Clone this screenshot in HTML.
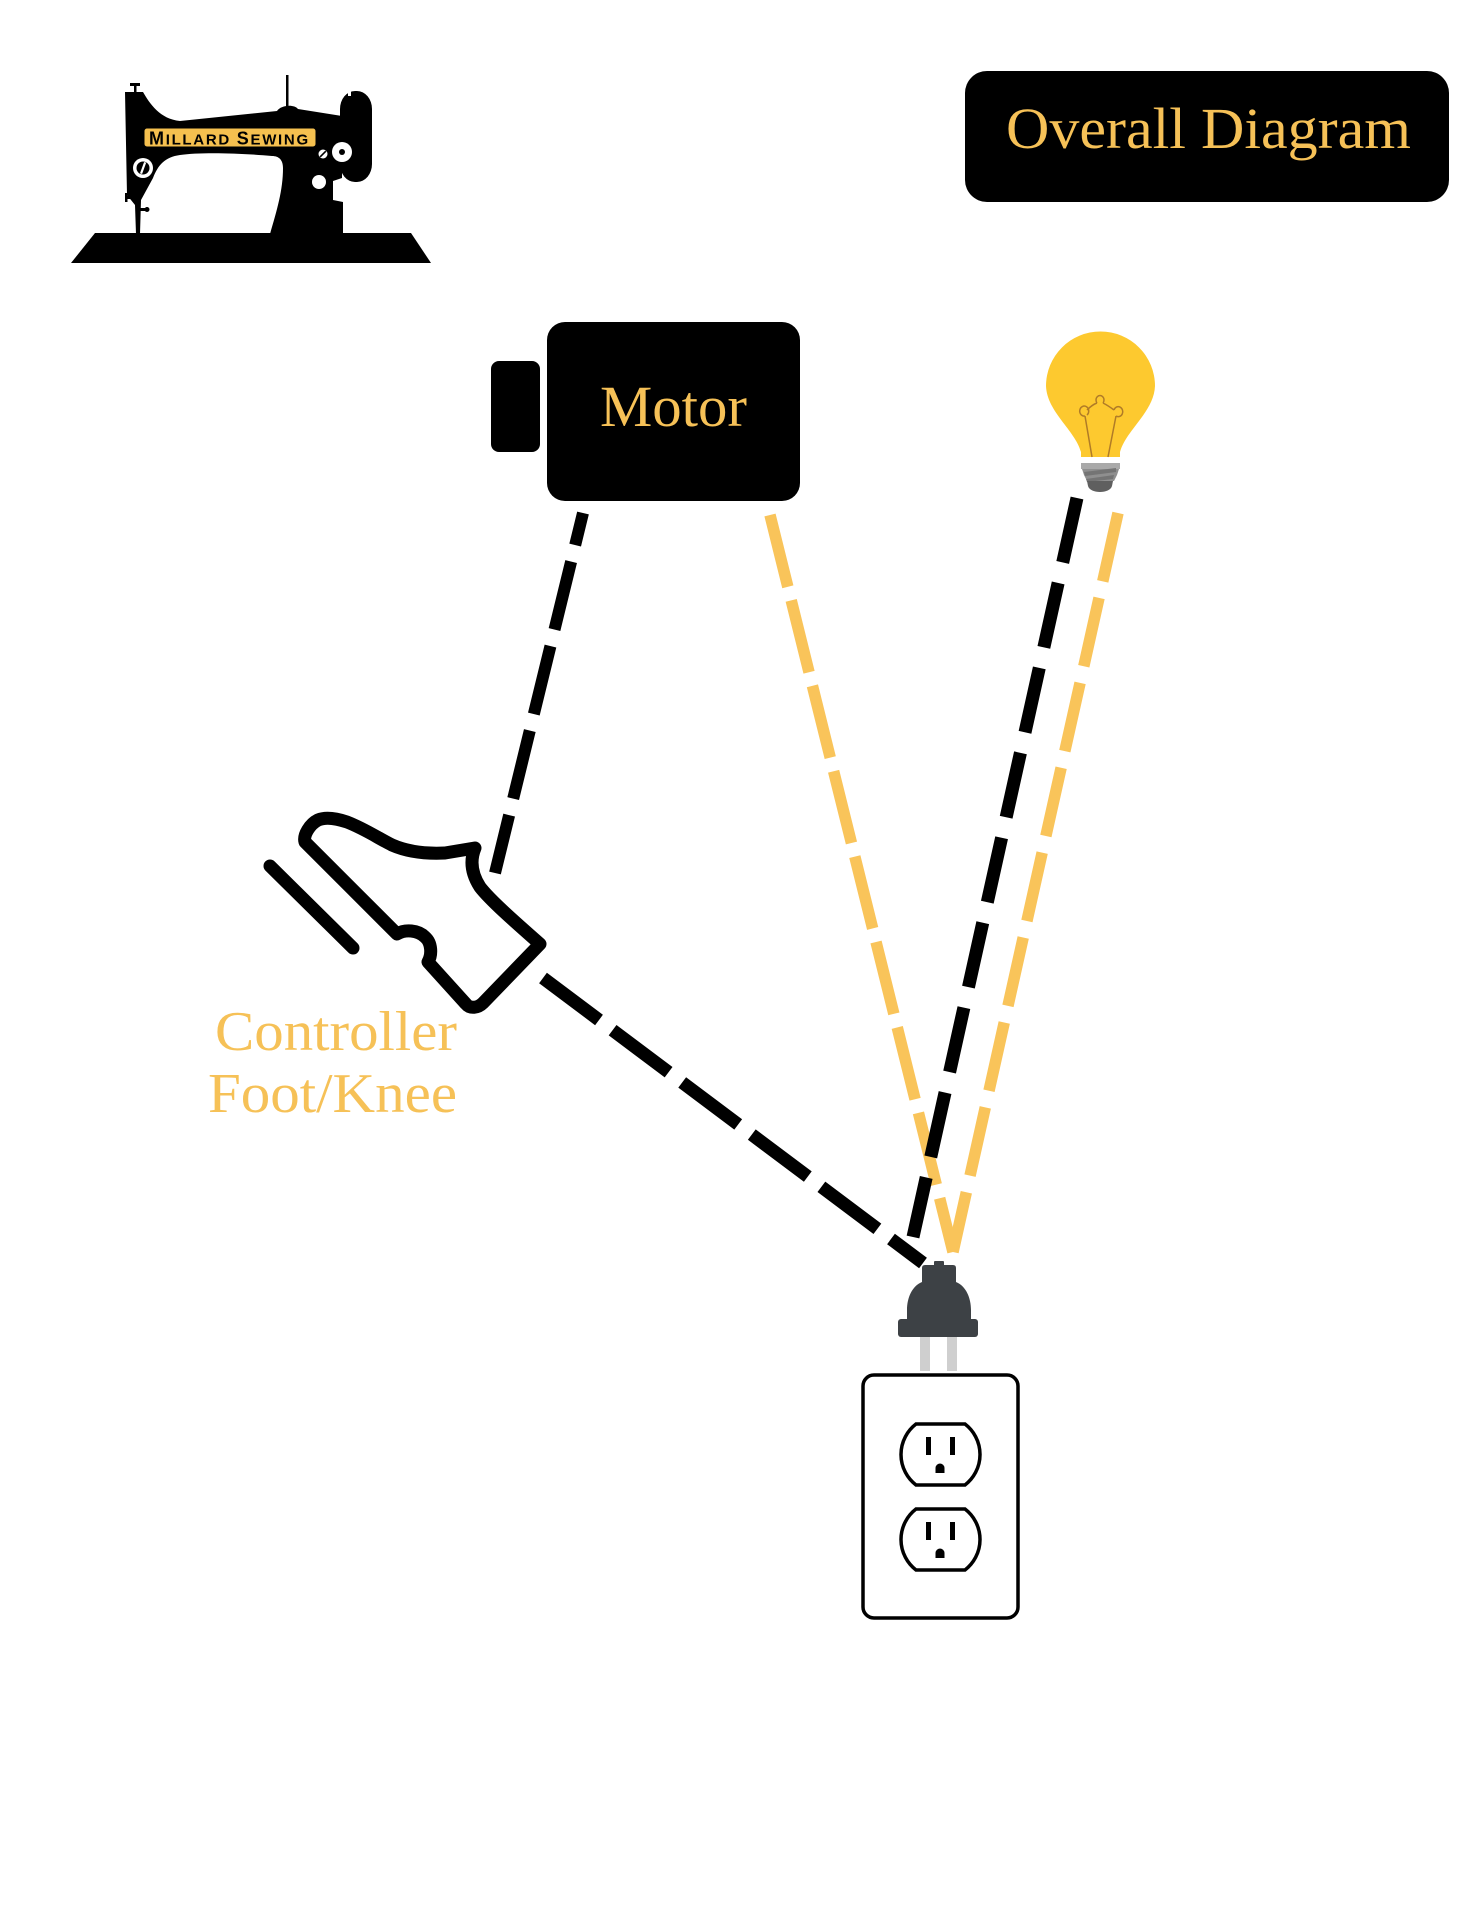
<!DOCTYPE html>
<html>
<head>
<meta charset="utf-8">
<style>
  html,body{margin:0;padding:0;background:#fff;}
  svg{display:block;}
</style>
</head>
<body>
<svg width="1484" height="1920" viewBox="0 0 1484 1920" xmlns="http://www.w3.org/2000/svg">
  <rect x="0" y="0" width="1484" height="1920" fill="#ffffff"/>

  <!-- ===== Sewing machine logo ===== -->
  <g>
    <polygon points="95,233 411,233 431,263 71,263" fill="#000"/>
    <rect x="286" y="75" width="2.5" height="33" fill="#000"/>
    <rect x="130" y="83" width="10" height="3" fill="#000"/>
    <rect x="134" y="84" width="2.5" height="10" fill="#000"/>
    <path d="M125,92 L143,92 C150,104 160,119 180,121 L277,111 C281,105 294,104 298,109 L342,116 L342,178 L333,181 L333,200 L343,202 L343,234 L270,234 C277,210 283,190 283,168 C283,160 279,156 272,156 C240,153 200,152 180,155 C165,157 158,165 153,178 L141,200 L140,234 L136,234 L135,205 L127,195 Z" fill="#000"/>
    <rect x="340" y="91" width="32" height="91" rx="15" ry="18" fill="#000"/>
    <rect x="348" y="90" width="3" height="6" fill="#fff"/>
    <rect x="125" y="196" width="8" height="3" fill="#000"/>
    <rect x="125" y="193" width="2.5" height="9" fill="#000"/>
    <rect x="138" y="208" width="9" height="3" fill="#000"/>
    <circle cx="147" cy="209.5" r="2.5" fill="#000"/>
    <rect x="144" y="128" width="172" height="19" rx="3" fill="#F5C04F" stroke="#000" stroke-width="1"/>
    <text x="149" y="144.5" font-family="'Liberation Sans', sans-serif" font-weight="bold" fill="#000" letter-spacing="1.7"><tspan font-size="18">M</tspan><tspan font-size="15">ILLARD </tspan><tspan font-size="18">S</tspan><tspan font-size="15">EWING</tspan></text>
    <circle cx="143" cy="168" r="10" fill="#fff"/>
    <circle cx="143" cy="168" r="6.5" fill="#000"/>
    <rect x="142" y="162" width="2.2" height="12" fill="#fff" transform="rotate(20 143 168)"/>
    <circle cx="342" cy="152" r="10" fill="#fff"/>
    <circle cx="342" cy="152" r="3" fill="#000"/>
    <circle cx="323" cy="154" r="4.5" fill="#fff"/>
    <rect x="322.2" y="150" width="1.6" height="8" fill="#000" transform="rotate(45 323 154)"/>
    <circle cx="319" cy="182" r="7" fill="#fff"/>
  </g>

  <!-- ===== Title ===== -->
  <rect x="965" y="71" width="484" height="131" rx="22" ry="22" fill="#000"/>
  <text x="1006" y="148" font-family="'Liberation Serif', serif" font-size="58" fill="#F6C157" textLength="405" lengthAdjust="spacingAndGlyphs">Overall Diagram</text>

  <!-- ===== Motor ===== -->
  <rect x="491" y="361" width="49" height="91" rx="8" ry="8" fill="#000"/>
  <rect x="547" y="322" width="253" height="179" rx="18" ry="18" fill="#000"/>
  <text x="600" y="426" font-family="'Liberation Serif', serif" font-size="58" fill="#F6C157" textLength="147" lengthAdjust="spacingAndGlyphs">Motor</text>

  <!-- ===== Light bulb ===== -->
  <g>
    <path d="M1081,457 L1081,452 C1075,430 1047,412 1046,386 A54.5,54.5 0 0 1 1155,386 C1154,412 1126,430 1120,452 L1120,457 Z" fill="#FDC92F"/>
    <path d="M1092,457 L1085,416 M1085,416 a4.5,5 0 1 1 2,-1 M1087,410 C1091,406 1094,404 1097,403 M1097,403 a4,4.5 0 1 1 6,0 M1103,403 C1107,405 1110,407 1114,410 M1114,410 a4.5,5 0 1 1 2,6 M1116,416 L1108,457" fill="none" stroke="#B07B27" stroke-width="1.5"/>
    <rect x="1081" y="463" width="39" height="6" fill="#A9A9A9"/>
    <path d="M1082,469 L1119,469 L1117,475 L1114,481 L1087,481 L1084,475 Z" fill="#8F8F8F"/>
    <path d="M1084,472 L1116,468 L1116,472 L1085,476 Z" fill="#747474"/>
    <path d="M1086,479 L1114,475 L1113,479 L1087,482 Z" fill="#747474"/>
    <path d="M1087,481 L1113,481 L1112,486 C1110,494 1090,494 1088,486 Z" fill="#5F5F5F"/>
  </g>

  <!-- ===== Dashed connectors ===== -->
  <line x1="583" y1="513" x2="495" y2="873" stroke="#000" stroke-width="12" stroke-dasharray="70 17" stroke-dashoffset="37"/>
  <line x1="770" y1="515" x2="953" y2="1252" stroke="#F9C45A" stroke-width="11.5" stroke-dasharray="74 14"/>
  <line x1="1077" y1="498" x2="913" y2="1237" stroke="#000" stroke-width="13" stroke-dasharray="66 21"/>
  <line x1="1118" y1="513" x2="953" y2="1252" stroke="#F9C45A" stroke-width="11.5" stroke-dasharray="70 17"/>
  <line x1="543" y1="978" x2="923" y2="1263" stroke="#000" stroke-width="13" stroke-dasharray="70 17"/>

  <!-- ===== Foot controller ===== -->
  <g fill="none" stroke="#000" stroke-width="13" stroke-linejoin="round" stroke-linecap="round">
    <line x1="270" y1="866" x2="353" y2="948"/>
    <path d="M305,842 C303,835 310,824 318,820 C325,817 335,818 347,822 C365,829 378,838 392,845 C408,852 425,854 445,853 L475,848 C470,860 471,873 480,887 C490,900 515,922 540,944 L483,1003 C478,1008 470,1009 466,1004 L428,962 C432,955 432,943 425,937 C418,930 405,929 397,934 Z"/>
  </g>
  <text x="215" y="1050" font-family="'Liberation Serif', serif" font-size="56" fill="#F6C157" textLength="242" lengthAdjust="spacingAndGlyphs">Controller</text>
  <text x="208" y="1112" font-family="'Liberation Serif', serif" font-size="56" fill="#F6C157" textLength="249" lengthAdjust="spacingAndGlyphs">Foot/Knee</text>

  <!-- ===== Plug ===== -->
  <g>
    <rect x="934" y="1261" width="10" height="5" rx="1" fill="#3D4145"/>
    <path d="M925,1265 L953,1265 Q956,1265 956,1268 L956,1282 C966,1286 971,1298 971,1310 L971,1321 L907,1321 L907,1310 C907,1298 912,1286 922,1282 L922,1268 Q922,1265 925,1265 Z" fill="#3D4145"/>
    <rect x="898" y="1319" width="80" height="18" rx="3" fill="#3D4145"/>
    <rect x="920" y="1337" width="10" height="34" fill="#CFCFCF"/>
    <rect x="947" y="1337" width="10" height="34" fill="#CFCFCF"/>
  </g>

  <!-- ===== Outlet ===== -->
  <g fill="none" stroke="#000" stroke-width="3.5">
    <rect x="863" y="1375" width="155" height="243" rx="11" ry="11" fill="#fff"/>
    <path d="M916,1424 L965,1424 A38.5,38.5 0 0 1 965,1485 L916,1485 A38.5,38.5 0 0 1 916,1424 Z"/>
    <path d="M916,1509 L965,1509 A38.5,38.5 0 0 1 965,1570 L916,1570 A38.5,38.5 0 0 1 916,1509 Z"/>
  </g>
  <g fill="#000">
    <rect x="926" y="1437" width="5" height="18"/>
    <rect x="950" y="1437" width="5" height="18"/>
    <path d="M935.5,1473 L935.5,1468 A4.5,4.5 0 0 1 944.5,1468 L944.5,1473 Z"/>
    <rect x="926" y="1522" width="5" height="18"/>
    <rect x="950" y="1522" width="5" height="18"/>
    <path d="M935.5,1558 L935.5,1553 A4.5,4.5 0 0 1 944.5,1553 L944.5,1558 Z"/>
  </g>
</svg>
</body>
</html>
